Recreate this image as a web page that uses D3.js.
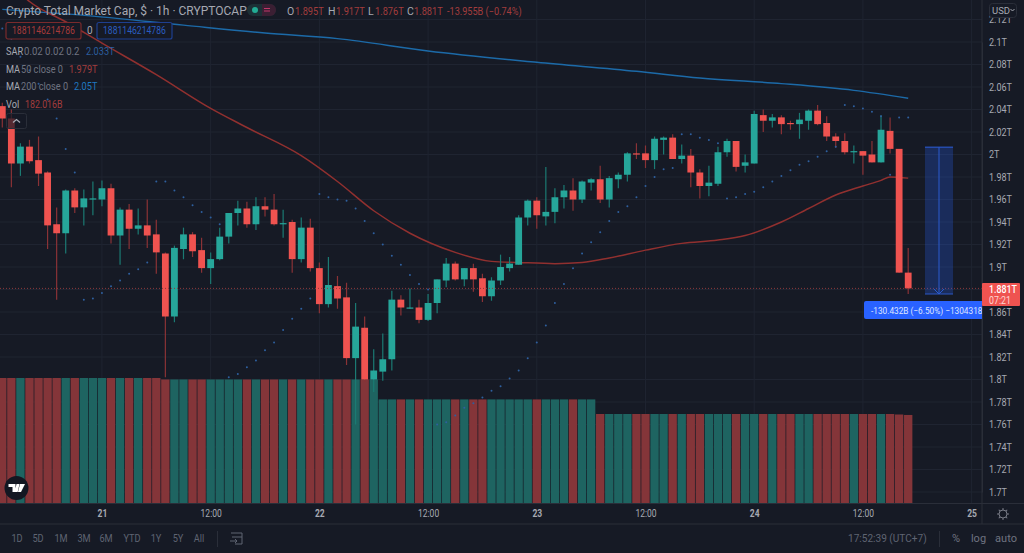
<!DOCTYPE html>
<html><head><meta charset="utf-8">
<script src="https://cdnjs.cloudflare.com/ajax/libs/d3/7.8.5/d3.min.js"></script>
<style>html,body{margin:0;padding:0;background:#161a25;overflow:hidden}svg{display:block}text{font-family:Roboto,sans-serif}</style>
</head><body><svg id="c" width="1024" height="553"></svg>
<script>
const firstBar=-11;
const opens=[2.043,2.032,1.992,2.007,1.995,1.984,1.938,1.930,1.968,1.953,1.960,1.960,1.970,1.928,1.951,1.934,1.937,1.929,1.912,1.856,1.916,1.929,1.915,1.899,1.907,1.927,1.948,1.952,1.938,1.954,1.951,1.938,1.940,1.907,1.935,1.899,1.867,1.883,1.873,1.819,1.846,1.800,1.807,1.818,1.871,1.863,1.864,1.853,1.868,1.888,1.903,1.889,1.899,1.890,1.874,1.888,1.899,1.902,1.944,1.959,1.945,1.949,1.962,1.968,1.960,1.975,1.978,1.960,1.978,1.982,2.001,2.001,1.995,2.013,2.015,1.996,1.999,1.984,1.972,1.974,2.002,2.012,1.990,1.992,2.035,2.030,2.033,2.028,2.027,2.030,2.039,2.028,2.016,2.012,2.002,2.003,2.000,1.993,2.021,2.005,1.895];
const highs=[2.046,2.040,2.010,2.013,2.016,1.985,1.953,1.969,1.970,1.969,1.976,1.977,1.974,1.953,1.956,1.952,1.960,1.942,1.913,1.919,1.935,1.931,1.926,1.913,1.935,1.948,1.959,1.958,1.962,1.962,1.965,1.951,1.942,1.944,1.943,1.904,1.909,1.892,1.886,1.868,1.856,1.827,1.841,1.879,1.875,1.881,1.871,1.876,1.889,1.908,1.905,1.899,1.903,1.894,1.891,1.911,1.909,1.946,1.960,1.962,1.989,1.970,1.973,1.979,1.977,1.979,1.990,1.981,1.984,2.002,2.010,2.008,2.016,2.016,2.018,2.009,2.005,1.987,1.990,2.007,2.014,2.012,2.000,2.039,2.040,2.036,2.035,2.030,2.037,2.040,2.044,2.034,2.019,2.019,2.008,2.003,2.012,2.035,2.033,2.005,1.917];
const lows=[2.024,1.971,1.981,1.992,1.972,1.916,1.871,1.912,1.948,1.937,1.946,1.954,1.921,1.902,1.916,1.929,1.917,1.894,1.802,1.851,1.907,1.909,1.895,1.885,1.906,1.921,1.937,1.935,1.933,1.945,1.937,1.926,1.895,1.904,1.896,1.859,1.864,1.863,1.813,1.760,1.798,1.789,1.799,1.808,1.857,1.863,1.850,1.852,1.859,1.882,1.888,1.883,1.878,1.869,1.870,1.884,1.896,1.902,1.937,1.934,1.937,1.939,1.952,1.950,1.957,1.968,1.957,1.953,1.970,1.976,1.996,1.988,1.987,2.000,1.996,1.992,1.971,1.961,1.963,1.972,1.998,1.985,1.984,1.992,2.020,2.024,2.018,2.022,2.014,2.022,2.026,2.012,2.006,2.000,1.992,1.982,1.993,1.993,2.001,1.895,1.876];
const closes=[2.032,1.992,2.007,1.994,1.983,1.937,1.930,1.968,1.953,1.961,1.961,1.970,1.928,1.951,1.934,1.937,1.928,1.913,1.856,1.917,1.929,1.914,1.899,1.907,1.927,1.948,1.952,1.938,1.954,1.951,1.938,1.939,1.907,1.935,1.899,1.867,1.884,1.872,1.819,1.847,1.800,1.808,1.818,1.871,1.864,1.864,1.853,1.868,1.889,1.903,1.889,1.899,1.889,1.874,1.888,1.900,1.903,1.944,1.959,1.946,1.949,1.962,1.968,1.960,1.976,1.978,1.960,1.979,1.982,2.001,2.000,1.995,2.014,2.015,1.996,1.999,1.984,1.972,1.975,2.002,2.012,1.989,1.993,2.036,2.030,2.033,2.027,2.027,2.031,2.039,2.027,2.016,2.012,2.002,2.003,1.999,1.993,2.022,2.005,1.895,1.881];
const volumes=[258,258,258,258,258,258,258,258,258,258,258,258,258,258,258,258,258,258,255,255,255,255,255,255,255,255,255,255,255,255,255,255,255,255,255,255,255,255,255,255,255,255,214,214,214,214,214,214,214,214,214,214,214,214,214,214,214,214,214,214,214,214,214,214,214,214,184,184,184,184,184,184,184,184,184,184,184,184,184,184,184,184,184,184,184,184,184,184,184,184,184,184,184,184,184,184,184,184,184,183,182.016];
const sar=[2.112,2.103,2.087,2.075,2.063,2.049,2.032,2.005,1.984,1.871,1.872,1.877,1.883,1.888,1.894,1.898,1.904,1.976,1.976,1.968,1.962,1.955,1.949,1.944,1.938,1.802,1.805,1.811,1.817,1.826,1.833,1.844,1.854,1.863,1.872,1.965,1.962,1.960,1.959,1.952,1.941,1.930,1.920,1.910,1.902,1.893,1.885,1.880,1.760,1.762,1.768,1.775,1.779,1.784,1.790,1.794,1.801,1.808,1.819,1.833,1.848,1.868,1.885,1.899,1.912,1.922,1.931,1.941,1.949,1.954,1.962,1.972,1.980,1.987,1.988,2.018,2.018,2.015,2.013,2.010,1.961,1.962,1.965,1.967,1.971,1.976,1.981,1.986,1.991,1.994,1.998,2.003,2.007,2.044,2.043,2.041,2.038,2.034,1.982,2.033,2.033];
const ma50Bars=[-9,-8,-4,0,6,12,16,22,26,30,34,39,43,46,50,53,56,60,64,68,71,75,78,81,84,86,87,89];
const ma50=[2.143,2.136,2.118,2.099,2.071,2.041,2.024,1.999,1.976,1.950,1.930,1.913,1.905,1.904,1.903,1.904,1.908,1.915,1.921,1.924,1.928,1.940,1.952,1.964,1.972,1.977,1.980,1.979];
const ma200Bars=[-11,-1,9,18,26,36,48,59,66,75,83,89];
const ma200=[2.129,2.123,2.115,2.108,2.103,2.092,2.082,2.074,2.068,2.063,2.057,2.050];
const priceTicks=[2.12,2.1,2.08,2.06,2.04,2.02,2,1.98,1.96,1.94,1.92,1.9,1.88,1.86,1.84,1.82,1.8,1.78,1.76,1.74,1.72,1.7];
const timeBars=[0,12,24,36,48,60,72,84,96];
const timeLabels=["21","12:00","22","12:00","23","12:00","24","12:00","25"];
const lastPrice=1.881;
const measureBars=[90.85,93.95], measurePrices=[2.0065,1.876];
const ranges=["1D","5D","1M","3M","6M","YTD","1Y","5Y","All"];
const rangeX=[17,38,61,84,106,132,156,178,199];
const rightTools=["%","log","auto"];

const UP="#26a69a",DN="#ef5350",BG="#161a25",GRID="#1f2431",TXT="#a6a9b2",DIM="#5f6472";
const RED="#a33d3d";
const W=982,AX=503.5;
const svg=d3.select("#c");
const squeeze=(sel,k)=>sel.each(function(){this.setAttribute("textLength",this.getComputedTextLength()*k);this.setAttribute("lengthAdjust","spacingAndGlyphs");});
const bars=d3.range(opens.length).map(k=>({i:firstBar+k,o:opens[k],h:highs[k],l:lows[k],c:closes[k],v:volumes[k],s:sar[k]}));
const x=d3.scaleLinear().domain([-11,89]).range([2.3,908.2]);
const y=d3.scaleLinear().domain([2.1,1.7]).range([42,492]);
const yv=d3.scaleLinear().domain([0,258]).range([AX,378]);

svg.append("defs").append("clipPath").attr("id","pane").append("rect").attr("width",W).attr("height",AX);
svg.append("rect").attr("width",1024).attr("height",553).attr("fill",BG);
const pane=svg.append("g").attr("clip-path","url(#pane)");
pane.append("g").selectAll("line").data(priceTicks).join("line").attr("x1",0).attr("x2",W).attr("y1",d=>y(d)).attr("y2",d=>y(d)).attr("stroke",GRID);
pane.append("g").selectAll("line").data(timeBars).join("line").attr("x1",d=>x(d)).attr("x2",d=>x(d)).attr("y1",0).attr("y2",AX).attr("stroke",GRID);
const vw=x(1)-x(0);
pane.append("g").selectAll("rect").data(bars).join("rect")
 .attr("x",d=>x(d.i)-vw/2+.35).attr("width",vw-.7).attr("y",d=>yv(d.v)).attr("height",d=>AX-yv(d.v))
 .attr("fill",d=>d.c<d.o?"#843539":"#1e6461");
const lineOf=(b,v)=>d3.line().x(d=>x(b[d])).y(d=>y(v[d])).curve(d3.curveMonotoneX)(d3.range(b.length));
pane.append("path").attr("d",lineOf(ma200Bars,ma200)).attr("fill","none").attr("stroke","#1c6aa8").attr("stroke-width",1.5);
pane.append("path").attr("d",lineOf(ma50Bars,ma50)).attr("fill","none").attr("stroke","#91302f").attr("stroke-width",1.5);
const cg=pane.append("g");
cg.selectAll("line").data(bars).join("line").attr("x1",d=>x(d.i)).attr("x2",d=>x(d.i)).attr("y1",d=>y(d.h)).attr("y2",d=>y(d.l))
 .attr("stroke",d=>d.c<d.o?"#8a3236":"#1b7a73").attr("stroke-width",1.2);
cg.selectAll("rect").data(bars).join("rect").attr("x",d=>x(d.i)-3.4).attr("width",6.8)
 .attr("y",d=>y(Math.max(d.o,d.c))).attr("height",d=>Math.max(1.2,Math.abs(y(d.o)-y(d.c))))
 .attr("fill",d=>d.c<d.o?DN:UP);
pane.append("g").selectAll("circle").data(bars).join("circle").attr("cx",d=>x(d.i)).attr("cy",d=>y(d.s)).attr("r",1).attr("fill","#2e5f9e");
pane.append("line").attr("x1",0).attr("x2",W).attr("y1",y(lastPrice)).attr("y2",y(lastPrice)).attr("stroke","#8f3a3c").attr("stroke-dasharray","1 2");
const mx0=x(measureBars[0]),mx1=x(measureBars[1]),my0=y(measurePrices[0]),my1=y(measurePrices[1]),mc=(mx0+mx1)/2;
const mg=pane.append("g");
mg.append("rect").attr("x",mx0).attr("y",my0).attr("width",mx1-mx0).attr("height",my1-my0).attr("fill","#2962ff").attr("fill-opacity",.25);
mg.selectAll(".e").data([my0,my1]).join("line").attr("x1",mx0).attr("x2",mx1).attr("y1",d=>d).attr("y2",d=>d).attr("stroke","#2a56c6").attr("stroke-width",1.2);
mg.append("line").attr("x1",mc).attr("x2",mc).attr("y1",my0).attr("y2",my1).attr("stroke","#2a5bd0").attr("stroke-width",1);
mg.append("path").attr("d",`M${mc-5},${my1-5}L${mc},${my1}L${mc+5},${my1-5}`).attr("fill","none").attr("stroke","#2a5bd0");
const ax=svg.append("g").attr("transform",`translate(${W},0)`).call(d3.axisRight(y).tickValues(priceTicks.filter(d=>d!==1.88)).tickSize(0).tickPadding(7).tickFormat(d=>(+d)+"T"));
ax.select(".domain").attr("stroke","#2a2e39");
ax.selectAll("text").attr("fill",TXT).attr("font-size",10).attr("font-family","Roboto,sans-serif").call(squeeze,.9);
const bx=svg.append("g").attr("transform",`translate(0,${AX})`).call(d3.axisBottom(x).tickValues(timeBars).tickSize(0).tickPadding(6).tickFormat((d,k)=>timeLabels[k]));
bx.select(".domain").remove();
bx.selectAll("text").attr("fill",TXT).attr("font-size",10).attr("font-family","Roboto,sans-serif").attr("font-weight",(d,k)=>timeLabels[k].length<3?700:400).call(squeeze,.85);
svg.append("line").attr("x1",0).attr("x2",1024).attr("y1",AX).attr("y2",AX).attr("stroke","#2a2e39");
svg.append("line").attr("x1",W).attr("x2",W).attr("y1",0).attr("y2",524).attr("stroke","#2a2e39");
svg.append("line").attr("x1",0).attr("x2",1024).attr("y1",524).attr("y2",524).attr("stroke","#2a2e39");

function T(s,px,py,size,fill,opt={}){const t=svg.append("text").attr("x",px).attr("y",py).attr("font-size",size).attr("fill",fill).attr("text-anchor",opt.a||"start").attr("font-weight",opt.w||400).text(s);if(opt.k)t.call(squeeze,opt.k);return t;}
svg.append("rect").attr("x",989.5).attr("y",3.5).attr("width",27).attr("height",14).attr("rx",3).attr("fill",BG).attr("stroke","#2a2e39");
T("USD",992,13.5,9.5,TXT);
svg.append("path").attr("d","M1010.5,9l2,2l2,-2").attr("fill","none").attr("stroke",TXT);
svg.append("rect").attr("x",982).attr("y",283).attr("width",38).attr("height",23).attr("rx",1).attr("fill",DN);
T("1.881T",989,292.5,10,"#fff",{w:500,k:.88});
T("07:21",989,303.5,10,"#ffd3d1",{k:.88});
svg.select("defs").append("clipPath").attr("id","ml").append("rect").attr("x",864).attr("y",301).attr("width",118).attr("height",18);
const cl=svg.append("g").attr("clip-path","url(#ml)");
cl.append("rect").attr("x",864).attr("y",301).attr("width",130).attr("height",18).attr("rx",2).attr("fill","#2962ff");
cl.append("text").attr("x",871).attr("y",313.5).attr("font-size",9.5).attr("fill","#dfe6ff").text("-130.432B (−6.50%) −1304318").call(squeeze,.87);
T("Crypto Total Market Cap, $ · 1h · CRYPTOCAP",6,14.5,12,TXT);
svg.append("rect").attr("x",247).attr("y",4).attr("width",29).attr("height",12).attr("rx",6).attr("fill","#1c3036");
svg.append("path").attr("d","M262,4h8a6,6 0 0 1 6,6a6,6 0 0 1 -6,6h-8z").attr("fill","#3b1f33");
svg.append("circle").attr("cx",255).attr("cy",10).attr("r",3).attr("fill","#22ab94");
svg.append("path").attr("d","M264,8.5h6M264,11h6").attr("stroke","#c2376a").attr("stroke-width",1.2);
const OH=10.5,KO=.88;
T("O",287,14.5,OH,TXT);T("1.895T",295,14.5,OH,RED,{k:KO});
T("H",328,14.5,OH,TXT);T("1.917T",336,14.5,OH,RED,{k:KO});
T("L",368,14.5,OH,TXT);T("1.876T",375,14.5,OH,RED,{k:KO});
T("C",407,14.5,OH,TXT);T("1.881T",414,14.5,OH,RED,{k:KO});
T("-13.955B (−0.74%)",447,14.5,OH,RED,{k:.87});
svg.append("rect").attr("x",6).attr("y",22.5).attr("width",75).attr("height",16.5).attr("rx",2).attr("fill",BG).attr("stroke","#7a2a2c").attr("stroke-width",1.2);
T("1881146214786",12,34,10,"#a83a3a",{k:.86});
T("0",87,34,10,TXT);
svg.append("rect").attr("x",97).attr("y",22.5).attr("width",75).attr("height",16.5).attr("rx",2).attr("fill",BG).attr("stroke","#1e3f8f").attr("stroke-width",1.2);
T("1881146214786",103,34,10,"#2a5dc0",{k:.86});
const KL=.92;
T("SAR",6,55,10,TXT,{k:KL});T("0.02 0.02 0.2",24,55,10,"#6f7380",{k:.96});T("2.033T",86,55,10,"#2c5e9e",{k:KL});
T("MA",6,72.5,10,TXT,{k:KL});T("50 close 0",21,72.5,10,"#6f7380",{k:KL});T("1.979T",69,72.5,10,RED,{k:KL});
T("MA",6,90,10,TXT,{k:KL});T("200 close 0",21,90,10,"#6f7380",{k:KL});T("2.05T",74,90,10,"#1f78c0",{k:KL});
T("Vol",6,107.5,10,TXT,{k:KL});T("182.016B",25,107.5,10,RED,{k:.88});
svg.append("rect").attr("x",6.5).attr("y",113.5).attr("width",20).attr("height",15).attr("rx",2).attr("fill",BG).attr("fill-opacity",.7).attr("stroke","#2a2e39");
svg.append("path").attr("d","M13,122.5l3.5,-3l3.5,3").attr("fill","none").attr("stroke",TXT).attr("stroke-width",1.3);
svg.append("circle").attr("cx",16.5).attr("cy",488).attr("r",12).attr("fill","#131722");
svg.append("path").attr("d","M8.5,484h7v8h-3v-5h-4zM16.5,484h3l-1.8,8h-3zM20,484h5l-4,8h-3z").attr("fill","#fff");
const gear=svg.append("g").attr("transform","translate(1003,514)");
gear.append("circle").attr("r",4).attr("fill","none").attr("stroke","#787b86");
gear.selectAll("line").data(d3.range(8)).join("line").attr("x1",0).attr("x2",0).attr("y1",-4).attr("y2",-6).attr("stroke","#787b86").attr("transform",d=>`rotate(${d*45})`);
svg.append("g").selectAll("text").data(ranges).join("text").attr("x",(d,k)=>rangeX[k]).attr("y",541.5).attr("text-anchor","middle").attr("font-size",10).attr("fill",DIM).text(d=>d).call(squeeze,.92);
svg.append("line").attr("x1",217.5).attr("x2",217.5).attr("y1",531).attr("y2",547).attr("stroke","#2a2e39");
svg.append("path").attr("d","M231,533h11v11h-7M232,537h10M230,541h7m-2,-2l2,2l-2,2").attr("fill","none").attr("stroke",DIM);
T("17:52:39 (UTC+7)",848,542,10.5,DIM,{k:.96});
svg.append("line").attr("x1",939.5).attr("x2",939.5).attr("y1",531).attr("y2",547).attr("stroke","#2a2e39");
svg.append("g").selectAll("text").data(rightTools).join("text").attr("x",(d,k)=>[956,978.5,1006][k]).attr("y",542).attr("text-anchor","middle").attr("font-size",11).attr("fill","#6f7380").text(d=>d);
</script></body></html>
